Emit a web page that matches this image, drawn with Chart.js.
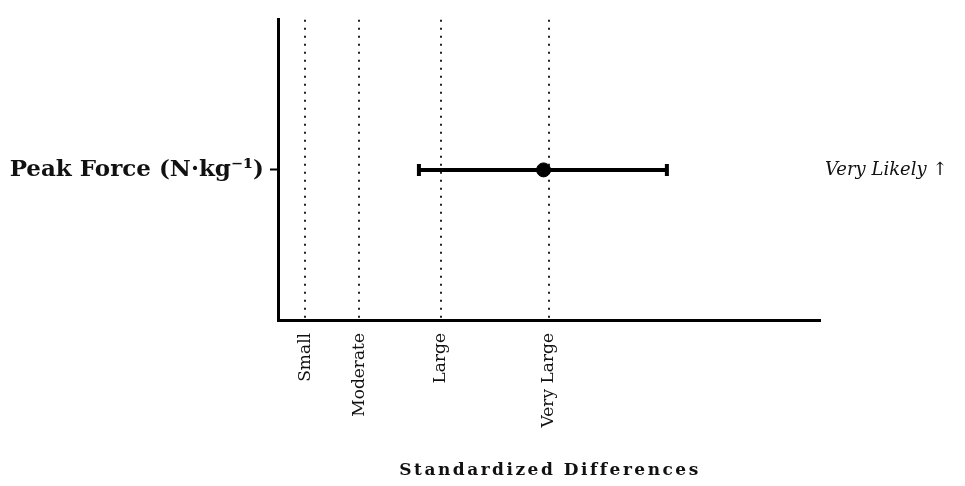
<!DOCTYPE html>
<html>
<head>
<meta charset="utf-8">
<script src="https://cdn.jsdelivr.net/npm/chart.js@4.4.1/dist/chart.umd.min.js"></script>
<style>
  html, body { margin: 0; padding: 0; background: #fff; }
  #wrap { width: 965px; height: 486px; }
</style>
</head>
<body>
<div id="wrap"><canvas id="effectChart"></canvas></div>
<script>
// magnitude thresholds (standardized differences)
const thresholds = [0.2, 0.6, 1.2, 2.0];
const thresholdLabels = ['Small', 'Moderate', 'Large', 'Very Large'];

// measures
const measures = ['Peak Force (N·kg⁻¹)'];
const effect = [1.96];
const ciLower = [1.04];
const ciUpper = [2.87];
const inference = ['Very Likely ↑'];

const serif = "'DejaVu Serif', 'Liberation Serif', serif";

// extra texts: inference label on the right and x title with letter spacing
const textPlugin = {
    id: 'textPlugin',
    afterDraw(chart) {
        const ctx = chart.ctx;
        const area = chart.chartArea;
        const y = chart.scales.y;
        ctx.save();
        ctx.fillStyle = '#111';
        ctx.font = 'italic 18px ' + serif;
        ctx.textAlign = 'left';
        ctx.textBaseline = 'middle';
        measures.forEach((m, i) => {
            ctx.fillText(inference[i], area.right + 5, y.getPixelForValue(i));
        });
        ctx.font = 'bold 17px ' + serif;
        ctx.letterSpacing = '2.5px';
        ctx.textAlign = 'center';
        ctx.fillText('Standardized Differences', (area.left + area.right) / 2 + 1, 471);
        ctx.restore();
    }
};

const ctx = document.getElementById('effectChart').getContext('2d');
new Chart(ctx, {
    data: {
        datasets: [
            {
                type: 'scatter',
                label: 'Effect',
                data: measures.map((m, i) => ({ x: effect[i], y: m })),
                backgroundColor: '#000',
                borderColor: '#000',
                pointRadius: 7,
                order: 1
            },
            {
                type: 'line',
                label: '90% CI',
                data: [{ x: ciLower[0], y: measures[0] }, { x: ciUpper[0], y: measures[0] }],
                borderColor: '#000',
                borderWidth: 4,
                pointStyle: 'line',
                rotation: 90,
                pointRadius: 6,
                pointBorderWidth: 4,
                pointBorderColor: '#000',
                order: 2
            }
        ]
    },
    options: {
        responsive: true,
        maintainAspectRatio: false,
        animation: false,
        layout: { padding: { top: 14, right: 145, left: 0, bottom: 0 } },
        plugins: {
            legend: { display: false },
            tooltip: { enabled: false }
        },
        scales: {
            x: {
                type: 'linear',
                min: 0,
                max: 4,
                afterBuildTicks: (scale) => {
                    scale.ticks = thresholds.map(v => ({ value: v }));
                },
                afterFit: (scale) => { scale.height = 166; },
                ticks: {
                    autoSkip: false,
                    minRotation: 90,
                    maxRotation: 90,
                    padding: 13,
                    color: '#111',
                    font: { family: serif, size: 17 },
                    callback: (v, i) => thresholdLabels[i]
                },
                grid: {
                    drawTicks: false,
                    color: '#222',
                    lineWidth: 2
                },
                border: { display: true, color: '#000', width: 3, dash: [2, 6] }
            },
            y: {
                type: 'category',
                labels: measures,
                offset: true,
                afterFit: (scale) => { scale.width = 278; },
                ticks: {
                    padding: 6,
                    color: '#111',
                    font: { family: serif, size: 23, weight: 'bold' }
                },
                grid: {
                    drawOnChartArea: false,
                    tickLength: 8,
                    tickWidth: 2,
                    tickColor: '#000'
                },
                border: { display: true, color: '#000', width: 3 }
            }
        }
    },
    plugins: [textPlugin]
});
</script>
</body>
</html>
